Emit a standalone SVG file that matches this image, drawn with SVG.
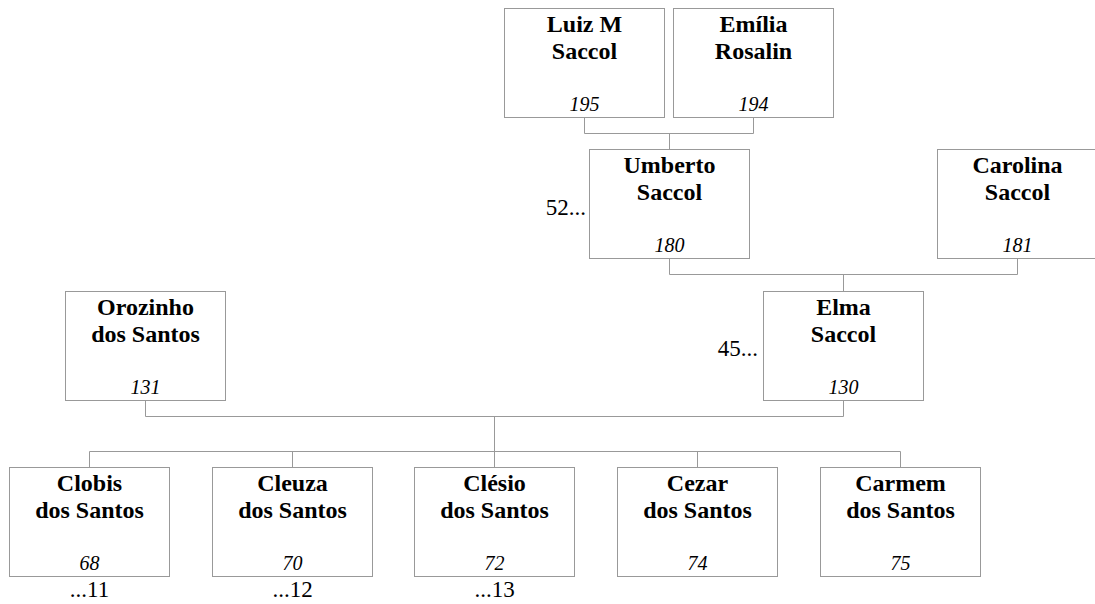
<svg xmlns="http://www.w3.org/2000/svg" width="1095" height="604" viewBox="0 0 1095 604">
<style>
.box{fill:#fff;stroke:#999;stroke-width:1}
.nm{font-family:'Liberation Serif','DejaVu Serif',serif;font-weight:bold;font-size:24px;fill:#000;text-anchor:middle}
.id{font-family:'Liberation Serif','DejaVu Serif',serif;font-style:italic;font-size:20px;fill:#000;text-anchor:middle}
.ex{font-family:'Liberation Serif','DejaVu Serif',serif;font-size:23px;fill:#000}
.ln{fill:none;stroke:#999;stroke-width:1}
</style>
<rect width="1095" height="604" fill="#fff"/>
<g id="connectors" class="ln">
<path d="M584.5 117.5V133.5H753.5V117.5M669.5 133.5V149.5"/>
<path d="M669.5 258.5V274.5H1017.5V258.5M843.5 274.5V291.5"/>
<path d="M145.5 400.5V416.5H843.5V400.5M494.5 416.5V451.5"/>
<path d="M89.5 451.5H900.5M89.5 451.5V467.5M292.5 451.5V467.5M494.5 451.5V467.5M697.5 451.5V467.5M900.5 451.5V467.5"/>
</g>
<g id="n195"><rect class="box" x="504.5" y="8.5" width="160" height="109"/><text class="nm" x="584.5" y="32">Luiz M</text><text class="nm" x="584.5" y="59">Saccol</text><text class="id" x="584.5" y="111">195</text></g>
<g id="n194"><rect class="box" x="673.5" y="8.5" width="160" height="109"/><text class="nm" x="753.5" y="32">Emília</text><text class="nm" x="753.5" y="59">Rosalin</text><text class="id" x="753.5" y="111">194</text></g>
<g id="n180"><rect class="box" x="589.5" y="149.5" width="160" height="109"/><text class="nm" x="669.5" y="173">Umberto</text><text class="nm" x="669.5" y="200">Saccol</text><text class="id" x="669.5" y="252">180</text><text class="ex" x="586" y="215" text-anchor="end">52...</text></g>
<g id="n181"><rect class="box" x="937.5" y="149.5" width="160" height="109"/><text class="nm" x="1017.5" y="173">Carolina</text><text class="nm" x="1017.5" y="200">Saccol</text><text class="id" x="1017.5" y="252">181</text></g>
<g id="n131"><rect class="box" x="65.5" y="291.5" width="160" height="109"/><text class="nm" x="145.5" y="315">Orozinho</text><text class="nm" x="145.5" y="342">dos Santos</text><text class="id" x="145.5" y="394">131</text></g>
<g id="n130"><rect class="box" x="763.5" y="291.5" width="160" height="109"/><text class="nm" x="843.5" y="315">Elma</text><text class="nm" x="843.5" y="342">Saccol</text><text class="id" x="843.5" y="394">130</text><text class="ex" x="758" y="356" text-anchor="end">45...</text></g>
<g id="n68"><rect class="box" x="9.5" y="467.5" width="160" height="109"/><text class="nm" x="89.5" y="491">Clobis</text><text class="nm" x="89.5" y="518">dos Santos</text><text class="id" x="89.5" y="570">68</text><text class="ex" x="89.5" y="597" text-anchor="middle">...11</text></g>
<g id="n70"><rect class="box" x="212.5" y="467.5" width="160" height="109"/><text class="nm" x="292.5" y="491">Cleuza</text><text class="nm" x="292.5" y="518">dos Santos</text><text class="id" x="292.5" y="570">70</text><text class="ex" x="292.5" y="597" text-anchor="middle">...12</text></g>
<g id="n72"><rect class="box" x="414.5" y="467.5" width="160" height="109"/><text class="nm" x="494.5" y="491">Clésio</text><text class="nm" x="494.5" y="518">dos Santos</text><text class="id" x="494.5" y="570">72</text><text class="ex" x="494.5" y="597" text-anchor="middle">...13</text></g>
<g id="n74"><rect class="box" x="617.5" y="467.5" width="160" height="109"/><text class="nm" x="697.5" y="491">Cezar</text><text class="nm" x="697.5" y="518">dos Santos</text><text class="id" x="697.5" y="570">74</text></g>
<g id="n75"><rect class="box" x="820.5" y="467.5" width="160" height="109"/><text class="nm" x="900.5" y="491">Carmem</text><text class="nm" x="900.5" y="518">dos Santos</text><text class="id" x="900.5" y="570">75</text></g>
</svg>
